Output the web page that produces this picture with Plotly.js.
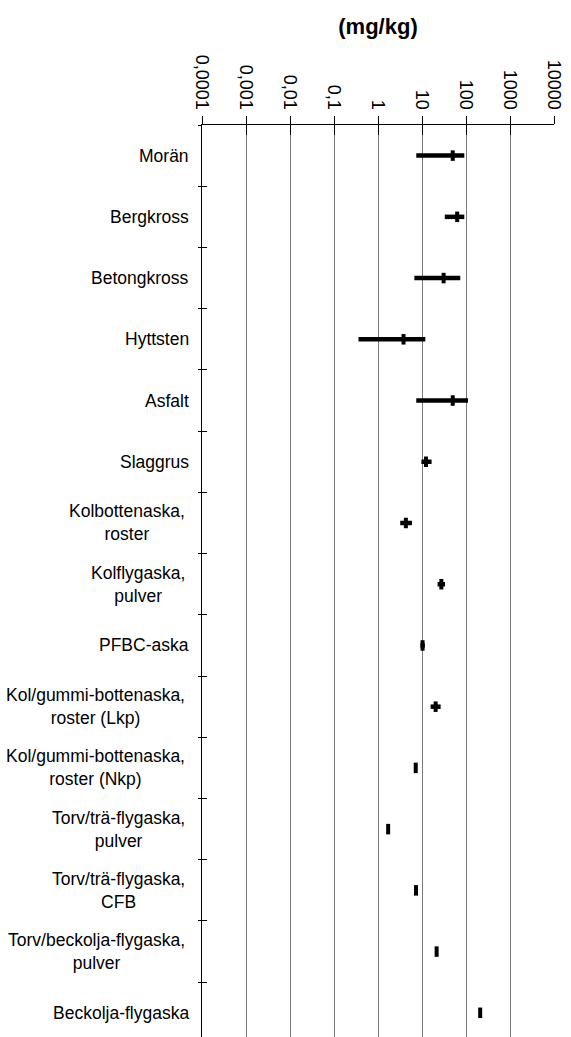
<!DOCTYPE html>
<html>
<head>
<meta charset="utf-8">
<script src="https://cdn.plot.ly/plotly-3.0.1.min.js"></script>
<style>html,body{margin:0;padding:0;background:#fff;}#chart{width:571px;height:1037px;}</style>
</head>
<body>
<div id="chart"></div>
<script>
var categories = ["Morän","Bergkross","Betongkross","Hyttsten","Asfalt","Slaggrus",
  "Kolbottenaska,<br>roster","Kolflygaska,<br>pulver","PFBC-aska",
  "Kol/gummi-bottenaska,<br>roster (Lkp)","Kol/gummi-bottenaska,<br>roster (Nkp)",
  "Torv/trä-flygaska,<br>pulver","Torv/trä-flygaska,<br>CFB",
  "Torv/beckolja-flygaska,<br>pulver","Beckolja-flygaska"];
var medianValues = [50, 63, 31, 3.8, 50, 12.3, 4.3, 27.5, 10.3, 20.4, 7.2, 1.7, 7.3, 21.5, 210];
var minValues    = [7.4, 33, 6.7, 0.36, 7.4, 9.7, 3.2, 22.6, 9.2, 15.7, 7.2, 1.7, 7.3, 21.5, 210];
var maxValues    = [91.5, 91.5, 74, 11.9, 111, 16.5, 5.9, 33.3, 11.6, 26.5, 7.2, 1.7, 7.3, 21.5, 210];
var tickValues = [0.0001, 0.001, 0.01, 0.1, 1, 10, 100, 1000, 10000];
var tickLabels = ["0,0001","0,001","0,01","0,1","1","10","100","1000","10000"];

var FONT = "Liberation Sans, Arial, sans-serif";

var errPlus = medianValues.map(function(m, i){ return maxValues[i] - m; });
var errMinus = medianValues.map(function(m, i){ return m - minValues[i]; });

var main = {
  type: "scatter", mode: "markers",
  x: medianValues, y: categories,
  marker: {symbol: "line-ns", size: 7.5, color: "#000", line: {color: "#000", width: 4}},
  error_x: {type: "data", symmetric: false, array: errPlus, arrayminus: errMinus,
            color: "#000", thickness: 4.5, width: 0},
  hoverinfo: "x+y", showlegend: false, cliponaxis: false
};
var ghost = {
  type: "scatter", mode: "markers",
  x: medianValues, y: categories, xaxis: "x2", yaxis: "y2",
  marker: {opacity: 0}, hoverinfo: "skip", showlegend: false
};

var annotations = categories.map(function(c){
  var multi = c.indexOf("<br>") >= 0;
  return {text: c, xref: "paper", x: 0, xanchor: "right", xshift: multi ? -15 : -11,
          yref: "y", y: c, yanchor: "middle", align: "center", showarrow: false,
          font: {family: FONT, size: 17.5, color: "#000"}};
});

var xCommon = {
  type: "log", range: [-4, 4], tickvals: tickValues, ticktext: tickLabels
};

var layout = {
  width: 571, height: 1037,
  margin: {l: 202, r: 17, t: 125, b: 0, pad: 0},
  paper_bgcolor: "#fff", plot_bgcolor: "#fff",
  font: {family: FONT, size: 17.5, color: "#000"},
  title: {text: "<b>(mg/kg)</b>", xref: "paper", x: 0.5, xanchor: "center",
          yref: "container", y: 1 - 26/1037, yanchor: "middle",
          font: {family: FONT, size: 22, color: "#000"}},
  xaxis: Object.assign({}, xCommon, {
    side: "top", tickangle: 90, ticks: "outside", ticklen: 8, tickwidth: 1, tickcolor: "#000",
    showline: true, linecolor: "#000", linewidth: 1,
    showgrid: true, gridcolor: "#7a7a7a", gridwidth: 1, zeroline: false,
    tickfont: {family: FONT, size: 18, color: "#000"}
  }),
  xaxis2: Object.assign({}, xCommon, {
    overlaying: "x", side: "top", anchor: "y", ticks: "inside", ticklen: 10, tickwidth: 1,
    tickcolor: "#000", showticklabels: false, showgrid: false, showline: false, zeroline: false
  }),
  yaxis: {
    type: "category", categoryorder: "array", categoryarray: categories,
    range: [14.395, -0.5], tickson: "boundaries", ticks: "outside", ticklen: 3,
    tickcolor: "#000", tickwidth: 1, showticklabels: false,
    showline: true, linecolor: "#000", linewidth: 1, showgrid: false, zeroline: false
  },
  yaxis2: {
    type: "category", categoryorder: "array", categoryarray: categories,
    overlaying: "y", anchor: "x", side: "left",
    range: [14.395, -0.5], tickson: "boundaries", ticks: "inside", ticklen: 5,
    tickcolor: "#000", tickwidth: 1, showticklabels: false,
    showline: false, showgrid: false, zeroline: false
  },
  annotations: annotations
};

Plotly.newPlot("chart", [main, ghost], layout, {displayModeBar: false, staticPlot: true});
</script>
</body>
</html>
